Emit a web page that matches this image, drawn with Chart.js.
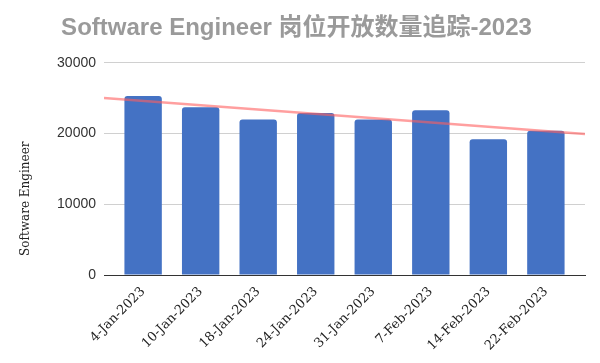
<!DOCTYPE html>
<html><head><meta charset="utf-8">
<script src="https://cdn.jsdelivr.net/npm/chart.js@4"></script>
<style>html,body{margin:0;padding:0;background:#fff}#w{width:600px;height:363px}</style>
</head><body><div id="w"><canvas id="c" width="600" height="363"></canvas></div>
<script>
const categories = ["4-Jan-2023","10-Jan-2023","18-Jan-2023","24-Jan-2023","31-Jan-2023","7-Feb-2023","14-Feb-2023","22-Feb-2023"];
const openings = [25300, 23700, 22000, 22900, 22000, 23300, 19200, 20400];
const trendValues = [25030, 19920]; // trendline read at left and right edges of plot
const yTicks = [0, 10000, 20000, 30000];
const X_MIN = -0.68, X_MAX = 7.68;

new Chart(document.getElementById('c'), {
  data: {
    datasets: [
      { type: 'line', data: [{x: X_MIN, y: trendValues[0]}, {x: X_MAX, y: trendValues[1]}],
        borderColor: 'rgba(255,95,95,0.6)', borderWidth: 2.5, pointRadius: 0, order: 0 },
      { type: 'bar', data: openings.map((v, i) => ({x: i, y: v})),
        backgroundColor: '#4472c4', borderRadius: {topLeft: 3, topRight: 3}, borderSkipped: 'bottom',
        barPercentage: 0.65, categoryPercentage: 1.0, order: 1 }
    ]
  },
  options: {
    responsive: false, animation: false,
    layout: { padding: { left: 8, right: 15, top: 0, bottom: 0 } },
    plugins: {
      legend: { display: false }, tooltip: { enabled: false },
      title: { display: true, text: 'Software Engineer 岗位开放数量追踪-2023', color: '#9a9a9a',
        font: { family: '"Liberation Sans", Arial, "Noto Sans CJK SC", sans-serif', size: 24, weight: 'bold' },
        padding: { top: 14, bottom: 20 } }
    },
    scales: {
      x: { type: 'linear', min: X_MIN, max: X_MAX, offset: false,
        afterBuildTicks: s => { s.ticks = categories.map((_, i) => ({ value: i })); },
        afterFit: s => { s.height = 88; s.paddingLeft = 0; s.paddingRight = 0; },
        grid: { display: false, drawTicks: false, offset: false },
        border: { display: true, color: '#333', width: 1 },
        ticks: { callback: v => categories[v], maxRotation: 45, minRotation: 45, autoSkip: false,
          color: '#222', padding: 9,
          font: { family: '"DejaVu Serif", serif', size: 13 } } },
      y: { min: 0, max: 30000,
        afterBuildTicks: s => { s.ticks = yTicks.map(v => ({ value: v })); },
        afterFit: s => { s.width = 96; },
        grid: { color: '#d0d0d0', drawTicks: false },
        border: { display: false },
        ticks: { color: '#333', padding: 8, callback: v => String(v),
          font: { family: '"Liberation Sans", Arial, sans-serif', size: 14 } },
        title: { display: true, text: '     Software Engineer', color: '#222', align: 'start',
          font: { family: '"DejaVu Serif", serif', size: 12 }, padding: { top: 11, bottom: 0 } } }
    }
  }
});
</script></body></html>
